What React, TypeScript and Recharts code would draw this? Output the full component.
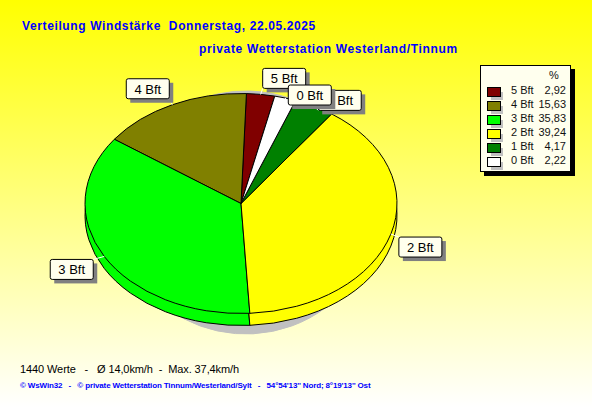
import { Legend, Pie, PieChart } from "recharts";

const labels = ["5 Bft", "4 Bft", "3 Bft", "2 Bft", "1 Bft", "0 Bft"];
const shares = [2.92, 15.63, 35.83, 39.24, 4.17, 2.22];
const shareTexts = ["2,92", "15,63", "35,83", "39,24", "4,17", "2,22"];
const COLORS = ["#800000", "#808000", "#00ff00", "#ffff00", "#008000", "#ffffff"];

const tableData = labels.map((name, i) => ({ name, value: shares[i], fill: COLORS[i] }));
const shadowData = labels.map((name, i) => ({ name, value: shares[i], fill: "#c0c0c0" }));

// where each callout box sits relative to its point on the rim
const calloutOffsets: Record<string, [number, number]> = {
  "5 Bft": [2, -26],
  "4 Bft": [-46, -26],
  "3 Bft": [-54, 3],
  "2 Bft": [8, 3],
  "1 Bft": [4, -16],
  "0 Bft": [3, -13],
};

const SQUASH = 110 / 156;
const SHADOW_SQUASH = 121.5 / 128;
const RAD = Math.PI / 180;
const FONT = "'Liberation Sans', Arial, sans-serif";

const ellipseSector = (ratio: number, outline: string) => (props: any) => {
  const { cx, cy, outerRadius: r, startAngle, endAngle, fill } = props;
  const ry = r * ratio;
  const x0 = cx + r * Math.cos(startAngle * RAD);
  const y0 = cy - ry * Math.sin(startAngle * RAD);
  const x1 = cx + r * Math.cos(endAngle * RAD);
  const y1 = cy - ry * Math.sin(endAngle * RAD);
  const large = Math.abs(endAngle - startAngle) > 180 ? 1 : 0;
  return (
    <path
      d={`M${cx},${cy}L${x0},${y0}A${r},${ry} 0 ${large} 0 ${x1},${y1}Z`}
      fill={fill}
      stroke={outline}
      strokeWidth={1}
    />
  );
};

const renderCallout = (props: any) => {
  const { cx, cy, outerRadius: r, midAngle, name } = props;
  const px = cx + r * Math.cos(midAngle * RAD);
  const py = cy - r * SQUASH * Math.sin(midAngle * RAD);
  const [dx, dy] = calloutOffsets[name];
  const x = px + dx;
  const y = py + dy;
  const w = 43;
  const h = 20;
  const cornerX = dx < 0 ? x + w : x;
  const cornerY = dy < 0 ? y + h : y;
  return (
    <g key={name}>
      <line x1={px} y1={py} x2={cornerX} y2={cornerY} stroke="#ffffff" />
      <rect x={x + 4} y={y + 4} width={w} height={h} fill="#808080" />
      <rect x={x} y={y} width={w} height={h} rx={2} fill="#ffffee" stroke="#000000" />
      <text x={x + w / 2} y={y + 15} textAnchor="middle" fontFamily={FONT} fontSize={13} fill="#000000">
        {name}
      </text>
    </g>
  );
};

const LegendTable = () => (
  <div
    style={{
      position: "relative",
      width: 91,
      height: 107,
      boxSizing: "border-box",
      background: "#ffffee",
      border: "1px solid #000",
      boxShadow: "4px 4px 0 #000",
      fontFamily: FONT,
      fontSize: 11,
      color: "#111",
    }}
  >
    <div style={{ position: "absolute", left: 68, top: 3 }}>%</div>
    {labels.map((name, i) => (
      <div key={name}>
        <div style={{ position: "absolute", left: 10, top: 26 + i * 14, width: 12, height: 8, background: "#c0c0c0" }} />
        <div
          style={{
            position: "absolute",
            left: 6,
            top: 21 + i * 14,
            width: 12,
            height: 8,
            background: COLORS[i],
            border: "1px solid #000",
          }}
        />
        <div style={{ position: "absolute", left: 30, top: 18 + i * 14 }}>{name}</div>
        <div style={{ position: "absolute", right: 4, top: 18 + i * 14 }}>{shareTexts[i]}</div>
      </div>
    ))}
  </div>
);

const textBase = { position: "absolute", whiteSpace: "pre", fontFamily: FONT } as const;

export default function App() {
  return (
    <div
      style={{
        position: "absolute",
        left: 0,
        top: 0,
        width: 592,
        height: 407,
        overflow: "hidden",
        background: "linear-gradient(#ffff00, #ffffff)",
      }}
    >
      <div style={{ ...textBase, left: 22, top: 19, fontSize: 12, fontWeight: 700, color: "#0000ff", letterSpacing: 0.62 }}>
        Verteilung Windstärke  Donnerstag, 22.05.2025
      </div>
      <div style={{ ...textBase, left: 199, top: 42, fontSize: 12, fontWeight: 700, color: "#0000ff", letterSpacing: 0.65 }}>
        private Wetterstation Westerland/Tinnum
      </div>
      <PieChart width={592} height={407} margin={{ top: 0, right: 0, bottom: 0, left: 0 }}>
        <Pie
          data={shadowData}
          dataKey="value"
          nameKey="name"
          cx={246}
          cy={212.5}
          outerRadius={128}
          startAngle={77.5}
          endAngle={437.5}
          shape={ellipseSector(SHADOW_SQUASH, "#c0c0c0")}
          isAnimationActive={false}
          legendType="none"
        />
        <Pie
          data={tableData}
          dataKey="value"
          nameKey="name"
          cx={241}
          cy={215.5}
          outerRadius={156}
          startAngle={77.5}
          endAngle={437.5}
          shape={ellipseSector(SQUASH, "#000000")}
          isAnimationActive={false}
          legendType="none"
        />
        <Pie
          data={tableData}
          dataKey="value"
          nameKey="name"
          cx={241}
          cy={203.5}
          outerRadius={156}
          startAngle={77.5}
          endAngle={437.5}
          shape={ellipseSector(SQUASH, "#000000")}
          label={renderCallout}
          labelLine={false}
          isAnimationActive={false}
        />
        <Legend
          content={() => <LegendTable />}
          wrapperStyle={{ position: "absolute", left: 480, top: 65, width: 91, height: 107, bottom: "auto" }}
        />
      </PieChart>
      <div style={{ ...textBase, left: 20, top: 363, fontSize: 11, letterSpacing: -0.1, color: "#000000" }}>
        1440 Werte   -   Ø 14,0km/h  -  Max. 37,4km/h
      </div>
      <div style={{ ...textBase, left: 20, top: 381, fontSize: 8, fontWeight: 700, letterSpacing: -0.14, color: "#0000ff" }}>
        © WsWin32   -   © private Wetterstation Tinnum/Westerland/Sylt   -   54°54'13'' Nord; 8°19'13'' Ost
      </div>
    </div>
  );
}
